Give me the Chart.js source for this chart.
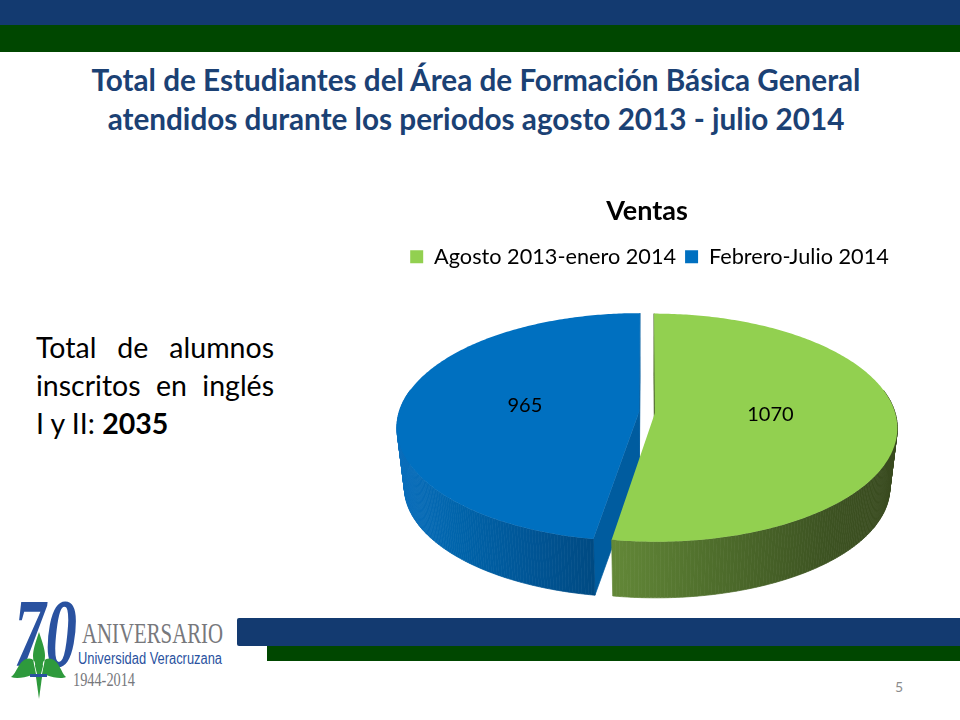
<!DOCTYPE html>
<html lang="es"><head><meta charset="utf-8">
<script src="https://cdn.jsdelivr.net/npm/chart.js@4"></script>
<style>
html,body{margin:0;padding:0;background:#fff;overflow:hidden}
#slide{position:relative;width:960px;height:720px;overflow:hidden;font-family:Lato,sans-serif}
.bar{position:absolute}
#head{position:absolute;left:0;top:61px;width:952px;text-align:center;color:#1b4174;font-weight:700;font-size:29.7px;line-height:38.5px;white-space:nowrap}
#side{position:absolute;left:36px;top:328px;width:238px;font-size:28.5px;line-height:38px;color:#000}
#side div{text-align:justify;text-align-last:justify}
#side div.l{text-align-last:left}
#num{position:absolute;left:895px;top:678px;font-size:14px;color:#8b8b8b}
#logo{position:absolute;left:0;top:590px}
canvas{position:absolute;left:380px;top:190px}
</style></head><body>
<div id="slide">
<div class="bar" style="left:0;top:0;width:960px;height:25px;background:#133a70"></div>
<div class="bar" style="left:0;top:25px;width:960px;height:27px;background:#004700"></div>
<div id="head">Total de Estudiantes del Área de Formación Básica General<br>atendidos durante los periodos agosto 2013 - julio 2014</div>
<div id="side"><div>Total de alumnos</div><div>inscritos en inglés</div><div class="l">I y II: <b>2035</b></div></div>
<div class="bar" style="left:237px;top:618px;width:723px;height:28px;background:#133a70;border-radius:2px 0 0 2px"></div>
<div class="bar" style="left:267px;top:646px;width:693px;height:15px;background:#004700"></div>
<div id="num">5</div>
<svg id="logo" width="240" height="120" viewBox="0 0 240 120">
<text x="14" y="76" font-family="Liberation Serif" font-style="italic" font-weight="700" font-size="98" fill="#2a52a0" textLength="63" lengthAdjust="spacingAndGlyphs">70</text>
<path d="M39 42 C35 54 33 60 33 66 C33 72 35 78 36 84 L32 85 C24 88 16 89 11 87 C17 83 18 72 26 69 C31 67 36 70 35 76 L37 84 L41 84 L43 76 C42 70 47 67 52 69 C60 72 61 83 66 87 C62 89 54 88 46 85 L42 84 C43 78 45 72 45 66 C45 60 43 54 39 42 Z" fill="#2e9a3c"/>
<path d="M36 87 L39 109 L42 87 Z" fill="#2e9a3c"/>
<rect x="30" y="84" width="17" height="3" fill="#2a52a0"/>
<text x="82" y="53" font-family="Liberation Serif" font-size="29" fill="#77787c" textLength="141" lengthAdjust="spacingAndGlyphs">ANIVERSARIO</text>
<text x="78" y="74" font-family="Liberation Sans" font-size="16" fill="#2a52a0" textLength="144" lengthAdjust="spacingAndGlyphs">Universidad Veracruzana</text>
<text x="73" y="96" font-family="Liberation Serif" font-size="18" fill="#77787c" textLength="62" lengthAdjust="spacingAndGlyphs">1944-2014</text>
</svg>
<canvas id="c" width="534" height="420"></canvas>
</div>
<script>
const categories = ['Agosto 2013-enero 2014', 'Febrero-Julio 2014'];
const values = [1070, 965];
const sliceColors = ['#92d050', '#0070c0'];
const chartTitle = 'Ventas';

// Left-to-right shading of each slice's outer wall
const wallStops = [
  [[0,'#638838'],[0.35,'#4f6e2c'],[0.75,'#3d5322'],[1,'#38491e']],
  [[0,'#0a6ebc'],[0.3,'#0064ab'],[0.7,'#005494'],[1,'#004a82']]
];
const faceColors = ['#4a6629', '#005c9f'];

const tilt = 0.4667, persp = 0.1316, depth = 60, lowerScale = 0.97;
function projector(arc){
  const R = arc.outerRadius, cx = arc.x, cy = arc.y;
  const mid = (arc.startAngle + arc.endAngle) / 2, off = arc.options.offset || 0;
  const ox = Math.cos(mid) * off, oy = Math.sin(mid) * off;
  return function(angle, r, lower){
    const u = (ox + Math.cos(angle) * R * r) / R, v = (oy + Math.sin(angle) * R * r) / R;
    const w = 1 / (1 - persp * v), s = lower ? lowerScale : 1;
    return [cx + s * R * u * w, cy + (lower ? depth : 0) + s * R * tilt * v * w];
  };
}
function poly(ctx, pts, fill, seal){
  ctx.beginPath(); pts.forEach((p,i)=> i?ctx.lineTo(p[0],p[1]):ctx.moveTo(p[0],p[1])); ctx.closePath();
  ctx.fillStyle = fill; ctx.fill();
  if(seal){ ctx.strokeStyle = fill; ctx.lineWidth = 0.7; ctx.stroke(); }
}
function area(p){let s=0;p.forEach((a,i)=>{const b=p[(i+1)%p.length];s+=a[0]*b[1]-b[0]*a[1];});return s/2;}

const pie3d = {
  id:'pie3d',
  afterLayout(chart){ chart.legend.left += 2.5; chart.legend.right += 2.5; },
  beforeDatasetDraw(chart,args){
    const ctx = chart.ctx, arcs = chart.getDatasetMeta(args.index).data;
    ctx.save();
    [1,0].forEach(i=>{
      const arc = arcs[i], P = projector(arc), a0 = arc.startAngle, a1 = arc.endAngle, n = 240;
      [[a0,-1],[a1,1]].forEach(([a,sign])=>{
        const q=[P(a,0,false),P(a,1,false),P(a,1,true),P(a,0,true)];
        if(area(q)*sign>1) poly(ctx,q,faceColors[i],true);
      });
      // Outer wall, swept strip by strip so the silhouette stays filled
      const strips=[];
      for(let k=0;k<n;k++){
        const s=a0+(a1-a0)*k/n, e=a0+(a1-a0)*(k+1)/n;
        if(Math.sin((s+e)/2)<-0.2) continue;
        strips.push([P(s,1,false),P(e,1,false),P(e,1,true),P(s,1,true)]);
      }
      const xs=strips.flat().map(p=>p[0]), g=ctx.createLinearGradient(Math.min(...xs),0,Math.max(...xs),0);
      wallStops[i].forEach(([t,c])=>g.addColorStop(t,c));
      strips.forEach(q=>poly(ctx,q,g,true));
      const top=[P(0,0,false)];
      for(let k=0;k<=n;k++) top.push(P(a0+(a1-a0)*k/n,1,false));
      poly(ctx,top,arc.options.backgroundColor,false);
    });
    ctx.fillStyle='#000'; ctx.font='20px Lato'; ctx.textAlign='center'; ctx.textBaseline='middle';
    arcs.forEach((arc,i)=>{
      const P=projector(arc), p=P((arc.startAngle+arc.endAngle)/2,0.48,false);
      ctx.fillText(String(values[i]),p[0],p[1]-2);
    });
    ctx.restore();
    return false;
  }
};

new Chart(document.getElementById('c'),{
  type:'pie',
  data:{labels:categories,datasets:[{data:values,backgroundColor:sliceColors,borderWidth:0,offset:8,radius:240}]},
  plugins:[pie3d],
  options:{
    responsive:false,animation:false,
    events:[],
    layout:{padding:{bottom:63}},
    plugins:{
      tooltip:{enabled:false},
      title:{display:true,text:chartTitle,color:'#000',font:{family:'Lato',size:27,weight:'700'},padding:{top:5,bottom:9.6}},
      legend:{position:'top',labels:{color:'#000',boxWidth:13,boxHeight:13,padding:9,font:{family:'Lato',size:21.7}}}
    }
  }
});
</script>
</body></html>
